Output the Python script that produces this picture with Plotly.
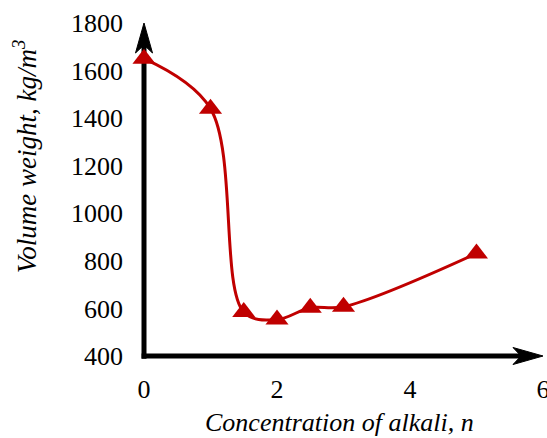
import plotly.graph_objects as go

conc = [0, 1, 1.5, 2, 2.5, 3, 5]
weight = [1650, 1440, 585, 553, 603, 607, 831]
x_ticks = [0, 2, 4, 6]
y_ticks = [400, 600, 800, 1000, 1200, 1400, 1600, 1800]

red = "#C00000"
serif = "Liberation Serif"

fig = go.Figure()
fig.add_trace(go.Scatter(
    x=conc, y=weight, mode="lines+markers",
    line=dict(color=red, width=3, shape="spline", smoothing=1),
    marker=dict(symbol="triangle-up", size=20, color=red),
    showlegend=False, cliponaxis=False,
))

# axis lines (paper refs so they are not clipped), below traces
fig.add_shape(type="line", xref="paper", yref="paper", x0=0, y0=-0.008, x1=0, y1=0.95,
              line=dict(color="black", width=5), layer="below")
fig.add_shape(type="line", xref="paper", yref="paper", x0=-0.006, y0=0, x1=0.96, y1=0,
              line=dict(color="black", width=5), layer="below")
# arrow heads (pixel-sized)
fig.add_shape(type="path", xref="paper", yref="paper", xsizemode="pixel", ysizemode="pixel",
              xanchor=0, yanchor=1,
              path="M 0 0 L 8.5 -30 L 0 -22 L -8.5 -30 Z",
              fillcolor="black", line=dict(color="black", width=1), layer="below")
fig.add_shape(type="path", xref="paper", yref="paper", xsizemode="pixel", ysizemode="pixel",
              xanchor=1, yanchor=0,
              path="M 0 0 L -30 8.5 L -22 0 L -30 -8.5 Z",
              fillcolor="black", line=dict(color="black", width=1), layer="below")

# axis titles
fig.add_annotation(text="<i>Concentration of alkali, n</i>", xref="paper", yref="paper",
                   x=0.49, y=-0.20, xanchor="center", yanchor="middle",
                   showarrow=False, font=dict(size=26, family=serif))
fig.add_annotation(text="<i>Volume weight, kg/m<sup>3</sup></i>", xref="paper", yref="paper",
                   x=-0.298, y=0.6, xanchor="center", yanchor="middle", textangle=-90,
                   showarrow=False, font=dict(size=27, family=serif))

fig.update_layout(
    width=547, height=438,
    margin=dict(l=144, r=4, t=23, b=82, autoexpand=False),
    paper_bgcolor="white", plot_bgcolor="white",
    font=dict(size=26, color="black", family=serif),
    xaxis=dict(range=[0, 6], tickvals=x_ticks, showgrid=False, zeroline=False,
               showline=False, ticks="", ticklabelstandoff=15, automargin=False,
               ticklabeloverflow="allow", tickfont=dict(family=serif, size=26)),
    yaxis=dict(range=[400, 1800], tickvals=y_ticks, showgrid=False, zeroline=False,
               showline=False, ticks="", ticklabelstandoff=20, automargin=False,
               ticklabeloverflow="allow", tickfont=dict(family=serif, size=26)),
)

fig.write_html("out.html")
